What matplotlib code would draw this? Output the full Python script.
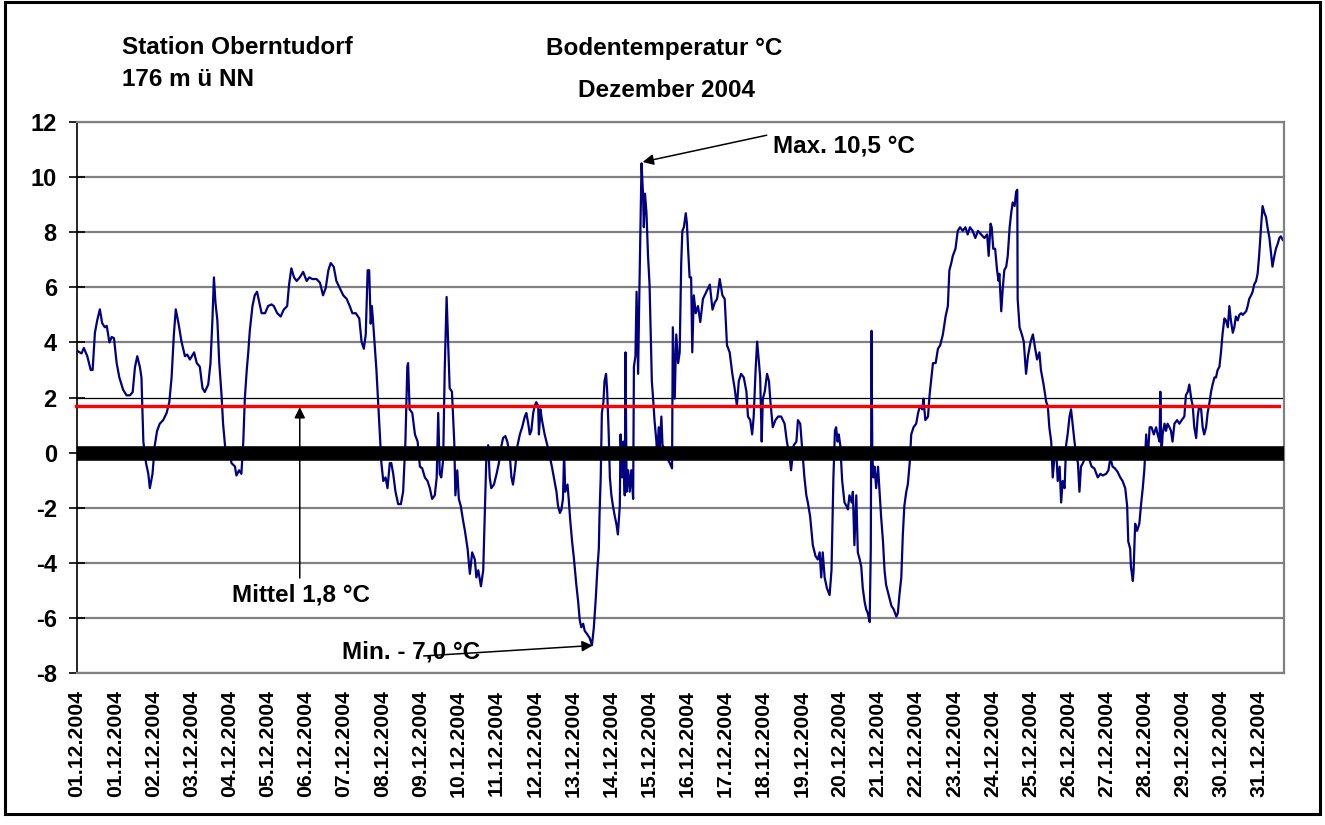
import matplotlib
matplotlib.use("Agg")
import matplotlib.pyplot as plt
from matplotlib.patches import Rectangle

plt.rcParams['font.family'] = ['Liberation Sans', 'DejaVu Sans']
plt.rcParams['font.weight'] = 'bold'

# ---- data (time in days since 01.12.2004 00:00, soil temperature in °C) ----
t_a = [0.00, 0.12, 0.18, 0.27, 0.36, 0.41, 0.47, 0.53, 0.60, 0.66, 0.73, 0.78, 0.85, 0.91, 0.97,
       1.04, 1.11, 1.21, 1.30, 1.39, 1.46, 1.52, 1.58, 1.65, 1.69, 1.74, 1.81, 1.87, 1.91, 1.98,
       2.04, 2.10, 2.17, 2.26, 2.35, 2.42, 2.48, 2.54, 2.59, 2.66, 2.74, 2.83, 2.89, 2.96, 3.07,
       3.14, 3.22, 3.29, 3.35, 3.44, 3.50, 3.55, 3.59, 3.63, 3.68, 3.73, 3.79, 3.83, 3.88, 3.92,
       3.99, 4.05, 4.14, 4.18, 4.25, 4.31, 4.36, 4.40, 4.45, 4.49, 4.53, 4.60, 4.66, 4.72, 4.78,
       4.84, 4.93, 5.01, 5.10, 5.16, 5.25, 5.34, 5.42, 5.51, 5.56, 5.62, 5.69, 5.76, 5.84, 5.93,
       6.02, 6.09, 6.17, 6.28, 6.37, 6.45, 6.52, 6.59, 6.65, 6.73, 6.80, 6.89, 6.98, 7.07, 7.15,
       7.22, 7.31, 7.40, 7.46, 7.52, 7.57, 7.62, 7.66, 7.70, 7.73, 7.76]
v_a = [3.70, 3.60, 3.80, 3.50, 3.00, 3.00, 4.35, 4.80, 5.20, 4.70, 4.55, 4.60, 4.00, 4.20, 4.15,
       3.25, 2.73, 2.28, 2.08, 2.08, 2.20, 3.10, 3.50, 3.10, 2.73, 0.40, -0.38, -0.77, -1.29, -0.77,
       0.27, 0.79, 1.05, 1.18, 1.44, 1.83, 2.73, 4.29, 5.20, 4.70, 4.03, 3.50, 3.56, 3.38, 3.64,
       3.25, 3.12, 2.34, 2.20, 2.47, 3.25, 4.80, 6.36, 5.45, 4.80, 3.25, 2.08, 1.05, 0.27, 0.00,
       0.13, -0.38, -0.50, -0.83, -0.64, -0.77, 0.40, 1.96, 2.99, 3.64, 4.42, 5.32, 5.71, 5.84, 5.45,
       5.06, 5.06, 5.32, 5.38, 5.32, 5.06, 4.94, 5.19, 5.32, 6.10, 6.69, 6.36, 6.23, 6.36, 6.56,
       6.23, 6.36, 6.30, 6.30, 6.17, 5.71, 5.97, 6.62, 6.88, 6.75, 6.23, 5.97, 5.71, 5.58, 5.32,
       5.06, 5.06, 4.87, 4.03, 3.77, 4.29, 6.62, 6.62, 4.68, 5.32, 4.80]

t_b = [7.85, 7.90, 7.94, 7.98, 8.03, 8.09, 8.14, 8.20, 8.24, 8.29, 8.35, 8.42, 8.49, 8.55, 8.61,
       8.66, 8.68, 8.72, 8.79, 8.86, 8.93, 8.99, 9.05, 9.12, 9.19, 9.25, 9.31, 9.38, 9.43, 9.47,
       9.51, 9.55, 9.60, 9.64, 9.69, 9.73, 9.77, 9.83, 9.89, 9.92, 9.97, 10.01, 10.06, 10.12, 10.17,
       10.24, 10.30, 10.36, 10.43, 10.47, 10.52, 10.59, 10.65, 10.69, 10.73, 10.78, 10.82, 10.86, 10.93, 11.00,
       11.06, 11.13, 11.17, 11.23, 11.28, 11.34, 11.39, 11.43, 11.48, 11.55, 11.61, 11.67, 11.74, 11.78, 11.83,
       11.87, 11.91, 11.96, 12.00, 12.04, 12.09, 12.11, 12.15, 12.19, 12.26, 12.33, 12.39, 12.45, 12.52, 12.57,
       12.61, 12.66, 12.70, 12.74, 12.77, 12.80, 12.86, 12.89, 12.93, 12.98, 13.03, 13.09, 13.14, 13.18, 13.22,
       13.27, 13.31, 13.38, 13.44, 13.50, 13.55, 13.60, 13.64, 13.68, 13.70, 13.73, 13.76, 13.80, 13.83, 13.87,
       13.90, 13.94, 13.97, 14.01, 14.05, 14.10, 14.14, 14.18, 14.23, 14.25, 14.29, 14.32, 14.36, 14.38, 14.41,
       14.45, 14.49, 14.53, 14.58, 14.60, 14.64, 14.67, 14.71, 14.74, 14.78, 14.80, 14.84, 14.86, 14.89, 14.93,
       14.97, 15.01, 15.04, 15.07, 15.11, 15.14, 15.19, 15.21, 15.25, 15.28, 15.32, 15.35, 15.41, 15.45, 15.49,
       15.54, 15.60, 15.62, 15.67, 15.71, 15.76, 15.80]
v_b = [3.00, 1.70, 0.66, -0.38, -1.03, -0.90, -1.29, -0.38, -0.38, -0.77, -1.42, -1.87, -1.87, -1.42, 0.40,
       3.12, 3.25, 1.57, 1.44, 0.66, 0.40, -0.51, -0.57, -0.90, -1.03, -1.29, -1.68, -1.55, -0.90, 1.44,
       -0.77, -0.90, -0.25, 2.99, 5.65, 4.03, 2.34, 2.21, 0.40, -1.55, -0.64, -1.68, -1.93, -2.45, -2.84,
       -3.49, -4.40, -3.62, -3.88, -4.53, -4.27, -4.85, -4.27, -2.19, -0.25, 0.27, -0.90, -1.29, -1.16, -0.77,
       -0.38, 0.27, 0.53, 0.60, 0.40, 0.00, -0.90, -1.16, -0.64, 0.27, 0.66, 0.92, 1.31, 1.44, 1.05,
       0.66, 0.79, 1.44, 1.70, 1.83, 1.70, 0.66, 1.57, 1.18, 0.66, 0.27, -0.12, -0.51, -1.03, -1.42,
       -1.93, -2.19, -2.06, -1.68, 0.00, -1.42, -1.16, -1.68, -2.45, -3.23, -3.88, -4.79, -5.43, -6.08, -6.34,
       -6.21, -6.47, -6.60, -6.73, -6.99, -6.34, -5.30, -4.27, -3.49, -2.19, -0.90, 1.44, 1.83, 2.60, 2.86,
       2.21, 0.66, -0.90, -1.55, -1.93, -2.32, -2.58, -2.97, -1.93, 0.66, -0.90, 0.40, -1.55, 3.64, -1.42,
       -0.64, -1.42, -0.64, -1.68, 3.12, 3.50, 5.84, 2.86, 5.58, 8.82, 10.50, 9.34, 8.18, 9.40, 8.69,
       7.14, 6.10, 4.42, 2.60, 1.83, 1.18, 0.40, -0.12, 0.92, 0.14, 1.31, 0.27, 0.14, -0.12, -0.25,
       -0.38, -0.57, 4.55, 1.96, 4.29, 3.25, 3.64]

t_c = [15.84, 15.87, 15.91, 15.96, 15.99, 16.02, 16.06, 16.10, 16.13, 16.17, 16.22, 16.28, 16.34, 16.41, 16.50,
       16.59, 16.66, 16.72, 16.78, 16.85, 16.92, 16.98, 17.04, 17.11, 17.18, 17.24, 17.30, 17.35, 17.41, 17.48,
       17.55, 17.59, 17.65, 17.70, 17.74, 17.79, 17.83, 17.88, 17.91, 17.95, 17.98, 18.03, 18.09, 18.14, 18.18,
       18.24, 18.31, 18.38, 18.46, 18.55, 18.61, 18.68, 18.72, 18.79, 18.86, 18.90, 18.96, 19.01, 19.07, 19.12,
       19.16, 19.22, 19.29, 19.36, 19.42, 19.47, 19.51, 19.55, 19.60, 19.66, 19.73, 19.78, 19.83, 19.87, 19.90,
       19.94, 19.97, 20.01, 20.06, 20.12, 20.17, 20.21, 20.25, 20.31, 20.34, 20.38, 20.43, 20.47, 20.52, 20.56,
       20.60, 20.65, 20.69, 20.73, 20.78, 20.81, 20.83, 20.85, 20.88, 20.91, 20.95, 21.00, 21.04, 21.08, 21.13,
       21.17, 21.21, 21.28, 21.35, 21.41, 21.48, 21.52, 21.56, 21.61, 21.65, 21.69, 21.74, 21.78, 21.83, 21.87,
       21.93, 22.00, 22.05, 22.10, 22.16, 22.19, 22.24, 22.31, 22.35, 22.39, 22.44, 22.51, 22.57, 22.63, 22.70,
       22.77, 22.83, 22.87, 22.92, 22.96, 23.03, 23.09, 23.15, 23.22, 23.29, 23.35, 23.41, 23.48, 23.55, 23.62,
       23.70, 23.79]
v_c = [6.88, 8.05, 8.18, 8.69, 8.31, 7.40, 6.36, 6.36, 3.64, 5.71, 5.06, 5.32, 4.74, 5.58, 5.84,
       6.10, 5.19, 5.45, 5.58, 6.30, 5.71, 5.58, 3.90, 3.64, 2.86, 2.34, 1.70, 2.60, 2.86, 2.73,
       2.21, 1.31, 1.18, 0.66, 1.31, 2.99, 4.03, 3.25, 2.73, 0.40, 1.96, 2.21, 2.86, 2.60, 1.83,
       0.92, 1.18, 1.31, 1.31, 1.05, 0.40, -0.12, -0.64, 0.27, 0.40, 1.18, 1.05, 0.14, -0.90, -1.55,
       -1.81, -2.32, -3.36, -3.75, -3.88, -3.62, -4.53, -3.62, -4.53, -4.92, -5.17, -4.27, -0.90, 0.79, 0.92,
       0.40, 0.66, 0.27, -1.03, -1.81, -1.93, -2.06, -1.55, -1.81, -1.42, -3.36, -1.55, -3.62, -3.88, -4.14,
       -4.92, -5.43, -5.69, -5.82, -6.15, -3.49, 4.42, -0.12, -0.90, -0.51, -1.29, -0.51, -1.42, -2.32, -3.23,
       -4.27, -4.79, -5.17, -5.56, -5.69, -5.95, -5.82, -5.17, -4.53, -2.97, -1.93, -1.42, -1.16, -0.38, 0.66,
       0.92, 1.05, 1.44, 1.70, 1.57, 1.96, 1.18, 1.31, 2.08, 2.60, 3.25, 3.25, 3.77, 3.90, 4.29,
       4.94, 5.32, 6.62, 6.88, 7.14, 7.40, 8.05, 8.18, 8.05, 8.18, 7.92, 8.18, 8.05, 7.79, 8.05,
       7.92, 7.79]

t_d = [23.86, 23.90, 23.95, 23.98, 24.02, 24.07, 24.12, 24.16, 24.18, 24.23, 24.27, 24.31, 24.36, 24.40, 24.45,
       24.49, 24.53, 24.58, 24.62, 24.65, 24.66, 24.71, 24.77, 24.82, 24.88, 24.93, 25.00, 25.06, 25.12, 25.17,
       25.23, 25.27, 25.34, 25.41, 25.45, 25.49, 25.54, 25.58, 25.62, 25.67, 25.71, 25.76, 25.80, 25.84, 25.89,
       25.93, 25.97, 26.02, 26.06, 26.10, 26.15, 26.19, 26.24, 26.28, 26.32, 26.37, 26.41, 26.48, 26.54, 26.60,
       26.67, 26.76, 26.83, 26.89, 26.98, 27.04, 27.09, 27.15, 27.21, 27.28, 27.35, 27.41, 27.48, 27.53, 27.56,
       27.61, 27.63, 27.68, 27.70, 27.74, 27.79, 27.85, 27.90, 27.94, 27.98, 28.03, 28.07, 28.12, 28.17, 28.23,
       28.29, 28.33, 28.38, 28.40, 28.43, 28.46, 28.51, 28.55, 28.59, 28.64, 28.68, 28.72, 28.77, 28.84, 28.90,
       28.96, 29.03, 29.07, 29.12, 29.16, 29.21, 29.25, 29.29, 29.34, 29.38, 29.42, 29.47, 29.51, 29.55, 29.60,
       29.64, 29.69, 29.73, 29.77, 29.82, 29.86, 29.90, 29.95, 29.99, 30.03, 30.08, 30.12, 30.17, 30.21, 30.25,
       30.30, 30.34, 30.38, 30.43, 30.47, 30.52, 30.56, 30.60, 30.65, 30.69, 30.73, 30.78, 30.82, 30.86, 30.91,
       30.95, 30.99, 31.04, 31.08, 31.13, 31.17, 31.21, 31.26, 31.30, 31.34, 31.39, 31.43, 31.48, 31.52, 31.56,
       31.61]
v_d = [7.92, 7.14, 8.31, 8.18, 7.40, 7.40, 6.62, 6.23, 6.49, 5.13, 5.97, 6.62, 6.75, 7.14, 8.18,
       8.69, 9.08, 8.95, 9.47, 9.54, 5.58, 4.55, 4.29, 4.03, 2.86, 3.50, 4.03, 4.29, 3.77, 3.38,
       3.64, 3.00, 2.47, 1.83, 1.70, 0.92, 0.40, -0.90, -0.25, 0.14, -1.03, -0.51, -1.81, -1.03, -1.29,
       0.27, 0.66, 1.31, 1.57, 1.05, 0.40, 0.00, -0.38, -1.42, -0.51, -0.38, -0.25, 0.00, -0.25, -0.51,
       -0.57, -0.90, -0.77, -0.83, -0.77, -0.64, -0.19, -0.51, -0.57, -0.70, -0.90, -1.03, -1.29, -1.93, -3.23,
       -3.49, -4.14, -4.66, -4.27, -2.58, -2.84, -2.58, -1.81, -1.29, -0.64, 0.66, -0.25, 0.92, 0.92, 0.66,
       0.92, 0.66, 0.40, 2.21, -0.12, 0.66, 1.05, 0.79, 1.05, 0.92, 0.79, 0.40, 1.05, 1.18, 1.05,
       1.18, 1.31, 2.08, 2.21, 2.47, 1.96, 1.70, 0.92, 0.53, 1.31, 1.70, 1.57, 0.92, 0.66, 0.92,
       1.44, 1.83, 2.21, 2.47, 2.73, 2.73, 2.99, 3.12, 3.64, 4.29, 4.87, 4.80, 4.55, 5.32, 4.80,
       4.35, 4.55, 4.94, 4.80, 5.00, 5.06, 5.00, 5.06, 5.13, 5.32, 5.58, 5.71, 5.84, 6.10, 6.23,
       6.49, 7.14, 8.18, 8.95, 8.69, 8.56, 8.18, 7.79, 7.27, 6.75, 7.14, 7.40, 7.59, 7.79, 7.85,
       7.72]

mean_value = 1.7
max_value = 10.5
min_value = -7.0

tick_labels = ["01.12.2004"] + ["%02d.12.2004" % d for d in range(1, 32)]
y_ticks = [12, 10, 8, 6, 4, 2, 0, -2, -4, -6, -8]

time = t_a + t_b + t_c + t_d
temp = v_a + v_b + v_c + v_d

# ---- figure ----
fig = plt.figure(figsize=(13.25, 8.25), dpi=100)
ax = fig.add_axes([0.0581, 0.1842, 0.9106, 0.6679])

ax.set_xlim(0, 31.63)
ax.set_ylim(-8, 12)

for yv in y_ticks:
    if yv == 2:
        ax.axhline(yv, color='black', lw=0.9, zorder=1)
    else:
        ax.axhline(yv, color='#808080', lw=1.6, zorder=1)

ax.plot(time, temp, color='#000080', lw=1.6, zorder=2)
ax.axhline(0, color='black', lw=10.5, zorder=3)
ax.plot([-0.03, 31.5], [mean_value, mean_value], color='#ff0000', lw=2.4, zorder=4, clip_on=False)

for side in ['top', 'right', 'bottom']:
    ax.spines[side].set_color('#808080')
    ax.spines[side].set_linewidth(1.6)
ax.spines['left'].set_color('black')
ax.spines['left'].set_linewidth(1.2)

ax.set_yticks(y_ticks)
ax.set_yticklabels([str(v) for v in y_ticks])
ax.tick_params(axis='y', direction='inout', length=12, width=1.2, pad=8.5, labelsize=17)
ax.set_xticks(list(range(len(tick_labels))))
ax.set_xticklabels(tick_labels, rotation=90, fontsize=15.3)
ax.tick_params(axis='x', length=0, pad=12)
for lbl in ax.get_xticklabels() + ax.get_yticklabels():
    lbl.set_fontweight('bold')

# titles
fs = 17.5
fig.text(122 / 1325, 1 - 54 / 825, "Station Oberntudorf", fontsize=fs, fontweight='bold', ha='left', va='baseline')
fig.text(122 / 1325, 1 - 86 / 825, "176 m ü NN", fontsize=fs, fontweight='bold', ha='left', va='baseline')
fig.text(664 / 1325, 1 - 55 / 825, "Bodentemperatur °C", fontsize=fs, fontweight='bold', ha='center', va='baseline')
fig.text(667 / 1325, 1 - 97 / 825, "Dezember 2004", fontsize=fs, fontweight='bold', ha='center', va='baseline')

# annotations
arrow = dict(arrowstyle='-|>', color='black', lw=1.1, mutation_scale=16, shrinkA=0, shrinkB=0)
ax.annotate("", xy=(14.83, max_value + 0.05), xytext=(18.08, 11.52), arrowprops=arrow, zorder=6)
ax.text(18.25, 11.12, "Max. 10,5 °C", fontsize=fs, fontweight='bold', ha='left', va='center')

ax.annotate("", xy=(5.84, mean_value - 0.05), xytext=(5.84, -4.55), arrowprops=arrow, zorder=6)
ax.text(5.86, -5.15, "Mittel 1,8 °C", fontsize=fs, fontweight='bold', ha='center', va='center')

ax.text(8.75, -7.24, "Min. - 7,0 °C", fontsize=fs, fontweight='bold', ha='center', va='center', zorder=5)
ax.annotate("", xy=(13.52, min_value), xytext=(9.09, -7.38), arrowprops=arrow, zorder=6)

# outer frame
fig.patches.append(Rectangle((5 / 1325, 11 / 825), 1315 / 1325, 812 / 825, transform=fig.transFigure,
                             fill=False, edgecolor='black', lw=2.2))

fig.savefig("out.png", dpi=100)
